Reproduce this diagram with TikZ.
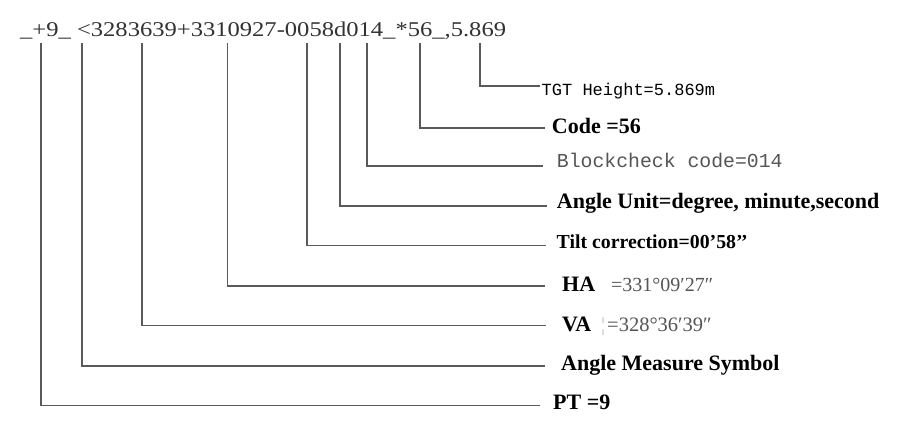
\documentclass[tikz,border=0pt]{standalone}
\usepackage{fontspec}
\setmainfont{Liberation Serif}
\newfontfamily\topfont[FakeStretch=1.17]{Liberation Serif}
\newfontfamily\monofont{Liberation Mono}
\definecolor{linec}{RGB}{90,90,90}
\definecolor{topc}{RGB}{50,50,50}
\definecolor{valc}{RGB}{85,85,85}
\begin{document}
\begin{tikzpicture}[x=1pt,y=-1pt,
  conn/.style={draw=linec, line width=1.4pt},
  lbl/.style={anchor=base west, inner sep=0pt, text=black, font=\bfseries\fontsize{22}{26}\selectfont},
  monolbl/.style={anchor=base west, inner sep=0pt},
  vallbl/.style={anchor=base west, inner sep=0pt, text=valc, font=\fontsize{20}{24}\selectfont}]
\useasboundingbox[fill=white] (0,0) rectangle (899,429);

\node[anchor=base west, inner sep=0pt, text=topc, font=\topfont\fontsize{21}{24}\selectfont] (str) at (20,36.5)
  {\_+9\_ <3283639+3310927-0058d014\_*56\_,5.869};

% labels
\node[monolbl, text=black, font=\monofont\fontsize{17}{20}\selectfont] (tgt) at (541.5,95) {TGT Height=5.869m};
\node[lbl] (code) at (551.7,133) {Code =56};
\node[monolbl, text=valc, font=\monofont\fontsize{19.8}{23}\selectfont] (bc) at (556.7,167) {Blockcheck code=014};
\node[lbl] (au) at (556.7,208) {Angle Unit=degree, minute,second};
\node[lbl, font=\bfseries\fontsize{19.8}{23}\selectfont] (tilt) at (556.5,248) {Tilt correction=00’58’’};
\node[lbl] (ha) at (562,291) {HA};
\node[vallbl] (hav) at (611,291) {=331°09′27″};
\node[lbl] (va) at (562,331) {VA};
\node[vallbl, text=black!25] (vam) at (601,331) {¦};
\node[vallbl, font=\fontsize{20.5}{24}\selectfont] (vav) at (607,331) {=328°36′39″};
\node[lbl] (ams) at (561,370) {Angle Measure Symbol};
\node[lbl] (pt) at (553,409) {PT =9};

% start points under the string
\coordinate (s1) at (41,43);
\coordinate (s2) at (82,43);
\coordinate (s3) at (142,43);
\coordinate (s4) at (227.5,43);
\coordinate (s5) at (307,43);
\coordinate (s6) at (340,43);
\coordinate (s7) at (367,43);
\coordinate (s8) at (420,43);
\coordinate (s9) at (480,43);
% end points before the labels
\coordinate (e1) at (540,405.5);
\coordinate (e2) at (545,366);
\coordinate (e3) at (546,325.5);
\coordinate (e4) at (545,286);
\coordinate (e5) at (546,245.5);
\coordinate (e6) at (547,206);
\coordinate (e7) at (543,166);
\coordinate (e8) at (545,128);
\coordinate (e9) at (540,86);

\draw[conn] (s1) |- (e1);
\draw[conn] (s2) |- (e2);
\draw[conn] (s3) |- (e3);
\draw[conn] (s4) |- (e4);
\draw[conn] (s5) |- (e5);
\draw[conn] (s6) |- (e6);
\draw[conn] (s7) |- (e7);
\draw[conn] (s8) |- (e8);
\draw[conn] (s9) |- (e9);
\end{tikzpicture}
\end{document}
